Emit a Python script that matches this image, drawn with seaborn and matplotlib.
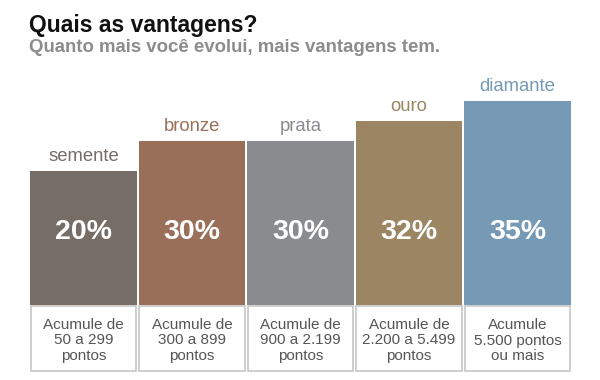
import matplotlib
matplotlib.use("Agg")
import matplotlib.pyplot as plt
import seaborn as sns
import pandas as pd

# data
niveis = ["semente", "bronze", "prata", "ouro", "diamante"]
vantagem = ["20%", "30%", "30%", "32%", "35%"]
altura = [134, 164, 164, 184, 204]  # bar heights (not proportional to %)
requisito = [
    "Acumule de\n50 a 299\npontos",
    "Acumule de\n300 a 899\npontos",
    "Acumule de\n900 a 2.199\npontos",
    "Acumule de\n2.200 a 5.499\npontos",
    "Acumule\n5.500 pontos\nou mais",
]
cores = ["#766d66", "#9a6f5a", "#8a8b8f", "#9b8563", "#7699b6"]

df = pd.DataFrame({"nivel": niveis, "altura": altura})

sns.set_style("white")
plt.rcParams["font.family"] = ["Liberation Sans", "DejaVu Sans"]

fig = plt.figure(figsize=(6, 3.8), dpi=100)
ax = fig.add_axes([29.25 / 600, 8 / 380, 542.5 / 600, 310 / 380])

sns.barplot(data=df, x="nivel", y="altura", hue="nivel", palette=cores,
            legend=False, width=0.978, saturation=1, linewidth=0, ax=ax)

# boxes under the bars
ax.bar(range(len(niveis)), 65, bottom=-66, width=0.975, fill=False,
       edgecolor="#c6c6c6", linewidth=1.2)

for i, (nome, pct, h, req, c) in enumerate(zip(niveis, vantagem, altura, requisito, cores)):
    ax.text(i, h + 10, nome, ha="center", va="baseline", color=c, fontsize=13.3)
    ax.text(i, 73, pct, ha="center", va="center", color="white",
            fontsize=20.5, fontweight="bold")
    ax.text(i, -35.5, req, ha="center", va="center", color="#555555",
            fontsize=11, linespacing=1.15)

ax.set_xlim(-0.5, len(niveis) - 0.5)
ax.set_ylim(-67, 243)
ax.axis("off")

fig.text(29 / 600, 1 - 32 / 380, "Quais as vantagens?", fontsize=16.5,
         fontweight="bold", color="#111111", va="baseline")
fig.text(29 / 600, 1 - 52 / 380, "Quanto mais você evolui, mais vantagens tem.",
         fontsize=13.4, fontweight="bold", color="#8c8c8c", va="baseline")

fig.savefig("out.png", dpi=100, facecolor="white")
